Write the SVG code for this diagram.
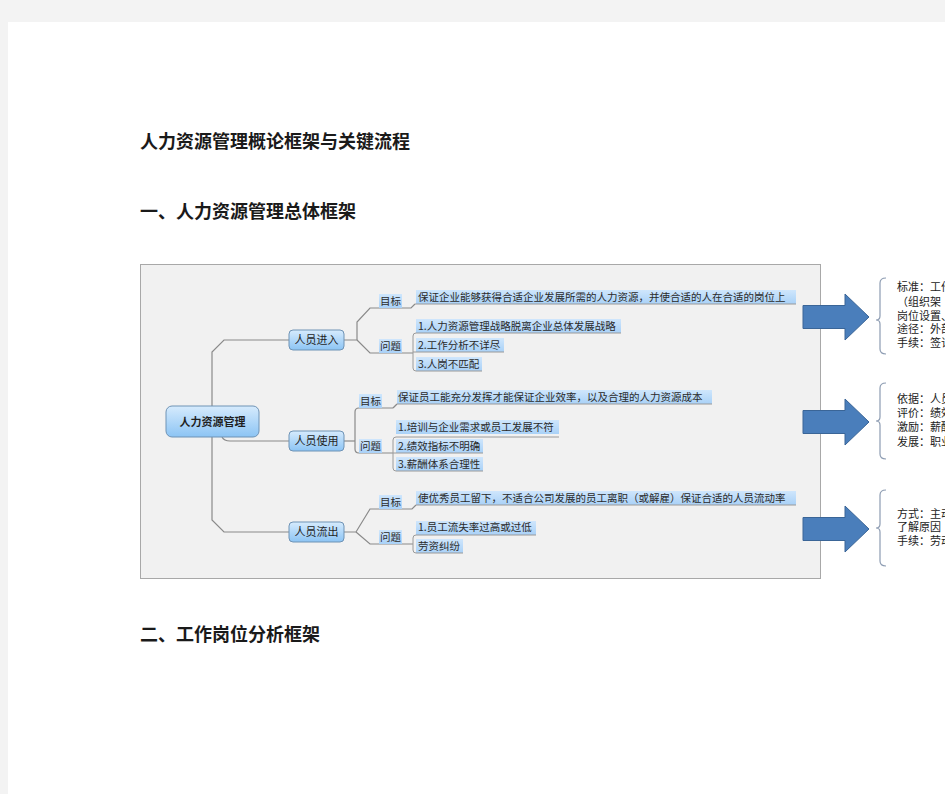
<svg xmlns="http://www.w3.org/2000/svg" width="945" height="794" viewBox="0 0 945 794">
<defs>
<linearGradient id="nodeGrad" x1="0" y1="0" x2="0" y2="1">
<stop offset="0" stop-color="#d6ebfd"/>
<stop offset="1" stop-color="#8cc4f4"/>
</linearGradient>
<linearGradient id="hlGrad" x1="0" y1="0" x2="0" y2="1">
<stop offset="0" stop-color="#cfe6fc"/>
<stop offset="1" stop-color="#a9d1f7"/>
</linearGradient>
<style>
.h{font-family:"Noto Sans CJK SC","Noto Sans",sans-serif;font-weight:bold;font-size:18px;fill:#1a1a1a}
.t{font-family:"Noto Sans CJK SC","Noto Sans",sans-serif;font-size:10.5px;fill:#2a2a2a}
.nt{font-family:"Noto Sans CJK SC","Noto Sans",sans-serif;font-size:11px;fill:#1f1f1f;text-anchor:middle}
.rt{font-family:"Noto Sans CJK SC","Noto Sans",sans-serif;font-size:11px;fill:#222}
.hl{fill:url(#hlGrad)}
.node{fill:url(#nodeGrad);stroke:#6f93b5;stroke-width:1}
.ln{fill:none;stroke:#8a8a8a;stroke-width:1.2}
.ul{fill:none;stroke:#9a9a9a;stroke-width:1}
.arr{fill:#4a7ebb;stroke:#3a6597;stroke-width:1}
.br{fill:none;stroke:#8d9cb2;stroke-width:1.2}
</style>
</defs>
<rect x="0" y="0" width="945" height="794" fill="#f3f3f3"/>
<rect x="8" y="22" width="937" height="772" fill="#ffffff"/>
<text class="h" x="140" y="148">人力资源管理概论框架与关键流程</text>
<text class="h" x="140" y="218">一、人力资源管理总体框架</text>
<text class="h" x="140" y="641">二、工作岗位分析框架</text>

<rect x="140.5" y="264.5" width="680" height="314" fill="#f1f1f1" stroke="#a8a8a8"/>

<g id="connectors">
<path class="ln" d="M212,406 V352 L224,340 H289"/>
<path class="ln" d="M212,437 V520 L224,532 H289"/>
<path class="ln" d="M222,437 Q224,441 230,441 H289"/>
<path class="ln" d="M343,340 H357 V322 L370,308 H411 L415,304"/>
<path class="ln" d="M357,340 L370,353 H413"/>
<path class="ln" d="M344,441 H355"/>
<path class="ln" d="M393,408 H359 Q355,408 355,412 V449 Q355,453 359,453 H393"/>
<path class="ln" d="M393,408 L397,404"/>
<path class="ln" d="M344,532 H356 L370,509 H412 L416,505"/>
<path class="ln" d="M356,532 L370,544 H413"/>
</g>

<g id="root">
<rect class="node" x="166" y="406" width="93" height="31" rx="6"/>
<text class="nt" x="212.5" y="426" font-weight="bold">人力资源管理</text>
</g>

<g id="entry">
<rect class="node" x="289" y="330" width="55" height="20" rx="4"/>
<text class="nt" x="316.5" y="344">人员进入</text>
</g>
<g id="entry-goal-label">
<rect class="hl" x="379" y="294" width="23" height="14"/>
<text class="t" x="380" y="305">目标</text>
</g>
<g id="entry-goal">
<rect class="hl" x="416" y="290" width="380" height="14"/>
<path class="ul" d="M415,304 H796"/>
<text class="t" x="418" y="301">保证企业能够获得合适企业发展所需的人力资源，并使合适的人在合适的岗位上</text>
</g>
<g id="entry-issue-label">
<rect class="hl" x="379" y="339" width="23" height="14"/>
<text class="t" x="380" y="350">问题</text>
</g>
<g id="entry-issues">
<rect class="hl" x="416" y="319" width="205" height="14"/>
<rect class="hl" x="416" y="338" width="88" height="14"/>
<rect class="hl" x="416" y="357" width="66" height="14"/>
<path class="ul" d="M621,333 H416 Q413,333 413,336 V368 Q413,371 416,371 H482"/>
<path class="ul" d="M413,352 H504"/>
<text class="t" x="418" y="330">1.人力资源管理战略脱离企业总体发展战略</text>
<text class="t" x="418" y="349">2.工作分析不详尽</text>
<text class="t" x="418" y="368">3.人岗不匹配</text>
</g>

<g id="use">
<rect class="node" x="289" y="431" width="55" height="20" rx="4"/>
<text class="nt" x="316.5" y="445">人员使用</text>
</g>
<g id="use-goal-label">
<rect class="hl" x="359" y="394" width="23" height="14"/>
<text class="t" x="360" y="405">目标</text>
</g>
<g id="use-goal">
<rect class="hl" x="397" y="390" width="315" height="14"/>
<path class="ul" d="M397,404 H712"/>
<text class="t" x="398" y="401">保证员工能充分发挥才能保证企业效率，以及合理的人力资源成本</text>
</g>
<g id="use-issue-label">
<rect class="hl" x="359" y="439" width="23" height="14"/>
<text class="t" x="360" y="450">问题</text>
</g>
<g id="use-issues">
<rect class="hl" x="396" y="420" width="163" height="14"/>
<rect class="hl" x="396" y="439" width="87" height="14"/>
<rect class="hl" x="396" y="457" width="87" height="14"/>
<path class="ul" d="M559,437 H396 Q393,437 393,440 V468 Q393,471 396,471 H483"/>
<path class="ul" d="M393,453 H483"/>
<text class="t" x="398" y="431">1.培训与企业需求或员工发展不符</text>
<text class="t" x="398" y="450">2.绩效指标不明确</text>
<text class="t" x="398" y="468">3.薪酬体系合理性</text>
</g>

<g id="exit">
<rect class="node" x="289" y="522" width="55" height="20" rx="4"/>
<text class="nt" x="316.5" y="536">人员流出</text>
</g>
<g id="exit-goal-label">
<rect class="hl" x="379" y="495" width="23" height="14"/>
<text class="t" x="380" y="506">目标</text>
</g>
<g id="exit-goal">
<rect class="hl" x="416" y="491" width="380" height="14"/>
<path class="ul" d="M416,505 H796"/>
<text class="t" x="418" y="502">使优秀员工留下，不适合公司发展的员工离职（或解雇）保证合适的人员流动率</text>
</g>
<g id="exit-issue-label">
<rect class="hl" x="379" y="530" width="23" height="14"/>
<text class="t" x="380" y="541">问题</text>
</g>
<g id="exit-issues">
<rect class="hl" x="416" y="521" width="120" height="14"/>
<rect class="hl" x="416" y="539" width="47" height="14"/>
<path class="ul" d="M536,535 H416 Q413,535 413,538 V550 Q413,553 416,553 H463"/>
<text class="t" x="418" y="531">1.员工流失率过高或过低</text>
<text class="t" x="418" y="550">劳资纠纷</text>
</g>

<g id="arrow1"><polygon class="arr" points="803,305.5 845,305.5 845,294 869,317 845,340 845,328.5 803,328.5"/></g>
<g id="arrow2"><polygon class="arr" points="803,410.5 845,410.5 845,399 869,422 845,445 845,433.5 803,433.5"/></g>
<g id="arrow3"><polygon class="arr" points="803,517.5 845,517.5 845,506 869,529 845,552 845,540.5 803,540.5"/></g>

<g id="brace1">
<path class="br" d="M886,278 Q880,278 880,283 V316 Q880,320 876,320 Q880,320 880,324 V349 Q880,354 886,354"/>
<text class="rt" x="897" y="291">标准：工作</text>
<text class="rt" x="897" y="306">（组织架</text>
<text class="rt" x="897" y="320">岗位设置、</text>
<text class="rt" x="897" y="333">途径：外部</text>
<text class="rt" x="897" y="347">手续：签订</text>
</g>
<g id="brace2">
<path class="br" d="M886,383 Q880,383 880,388 V417 Q880,421 876,421 Q880,421 880,425 V454 Q880,459 886,459"/>
<text class="rt" x="897" y="403">依据：人员</text>
<text class="rt" x="897" y="417">评价：绩效</text>
<text class="rt" x="897" y="431">激励：薪酬</text>
<text class="rt" x="897" y="446">发展：职业</text>
</g>
<g id="brace3">
<path class="br" d="M886,490 Q880,490 880,495 V524 Q880,528 876,528 Q880,528 880,532 V561 Q880,566 886,566"/>
<text class="rt" x="897" y="518">方式：主动</text>
<text class="rt" x="897" y="531">了解原因</text>
<text class="rt" x="897" y="545">手续：劳动</text>
</g>
</svg>
